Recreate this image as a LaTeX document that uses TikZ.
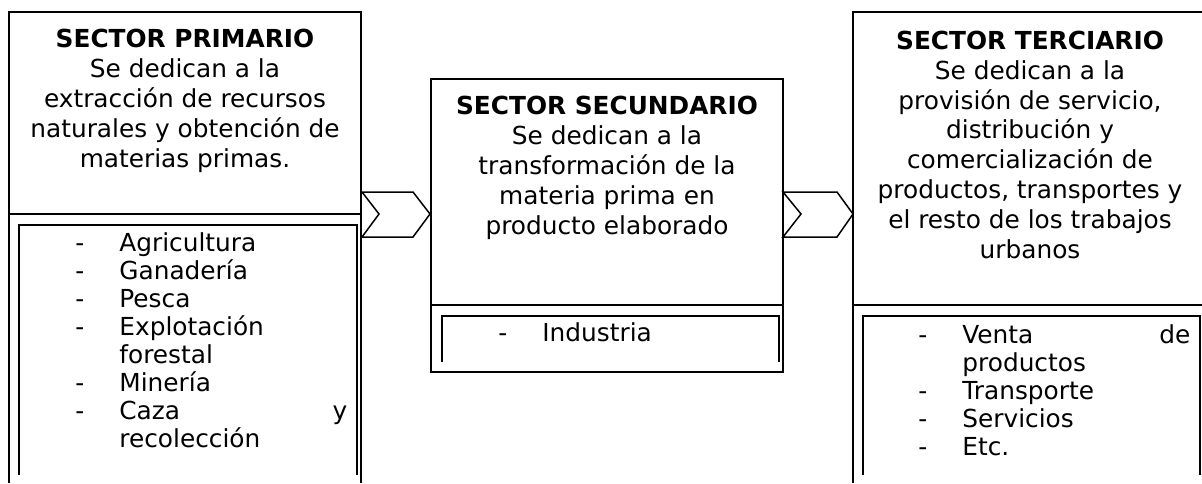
\documentclass[tikz,border=0pt]{standalone}
\usepackage{fontspec}
\setmainfont{DejaVu Sans}
\begin{document}
\begin{tikzpicture}[x=0.5pt,y=-0.5pt,
    caja/.style={line width=0.8pt},
    lista/.style={line width=1.3pt},
    flecha/.style={line width=0.75pt,line join=miter},
    texto/.style={align=center,inner sep=0pt,anchor=base,font=\fontsize{12.4}{14.9}\selectfont},
    items/.style={align=left,inner sep=0pt,anchor=base west,font=\fontsize{12.4}{14}\selectfont}]
    \useasboundingbox (0,0) rectangle (1202,483);
    % sector primario
    \draw[caja] (9,483) -- (9,12) -- (361,12) -- (361,483);
    \draw[caja] (9,214) -- (361,214);
    \draw[lista] (19,475) -- (19,225) -- (357,225) -- (357,475);
    \node[texto] (prim) at (185,167) {\textbf{SECTOR PRIMARIO}\\Se dedican a la\\extracción de recursos\\naturales y obtención de\\materias primas.};
    \node[items,text width=136pt] (primlista) at (75,251) {\makebox[22pt][l]{-}Agricultura\\\makebox[22pt][l]{-}Ganadería\\\makebox[22pt][l]{-}Pesca\\\makebox[22pt][l]{-}Explotación\\\hspace*{22pt}forestal\\\makebox[22pt][l]{-}Minería\\\makebox[22pt][l]{-}Caza\hfill y\\\hspace*{22pt}recolección};
    % sector secundario
    \draw[caja] (431,79) rectangle (783,372);
    \draw[caja] (431,305) -- (783,305);
    \draw[lista] (442,362) -- (442,316) -- (779,316) -- (779,362);
    \node[texto] (secu) at (607,234) {\textbf{SECTOR SECUNDARIO}\\Se dedican a la\\transformación de la\\materia prima en\\producto elaborado};
    \node[items] (seculista) at (498,341) {\makebox[22pt][l]{-}Industria};
    % sector terciario
    \draw[caja] (853,483) -- (853,12) -- (1207,12);
    \draw[caja] (853,305) -- (1207,305);
    \draw[lista] (863,475) -- (863,316) -- (1200,316) -- (1200,475);
    \node[texto] (terc) at (1030,258) {\textbf{SECTOR TERCIARIO}\\Se dedican a la\\provisión de servicio,\\distribución y\\comercialización de\\productos, transportes y\\el resto de los trabajos\\urbanos};
    \node[items,text width=136pt] (terclista) at (918,343) {\makebox[22pt][l]{-}Venta\hfill de\\\hspace*{22pt}productos\\\makebox[22pt][l]{-}Transporte\\\makebox[22pt][l]{-}Servicios\\\makebox[22pt][l]{-}Etc.};
    % flechas
    \draw[flecha] (362,192) -- (413,192) -- (430,214) -- (413,237) -- (362,237) -- (379,214) -- cycle;
    \draw[flecha] (783,192) -- (837,192) -- (853,214) -- (837,237) -- (783,237) -- (801,214) -- cycle;
\end{tikzpicture}
\end{document}
